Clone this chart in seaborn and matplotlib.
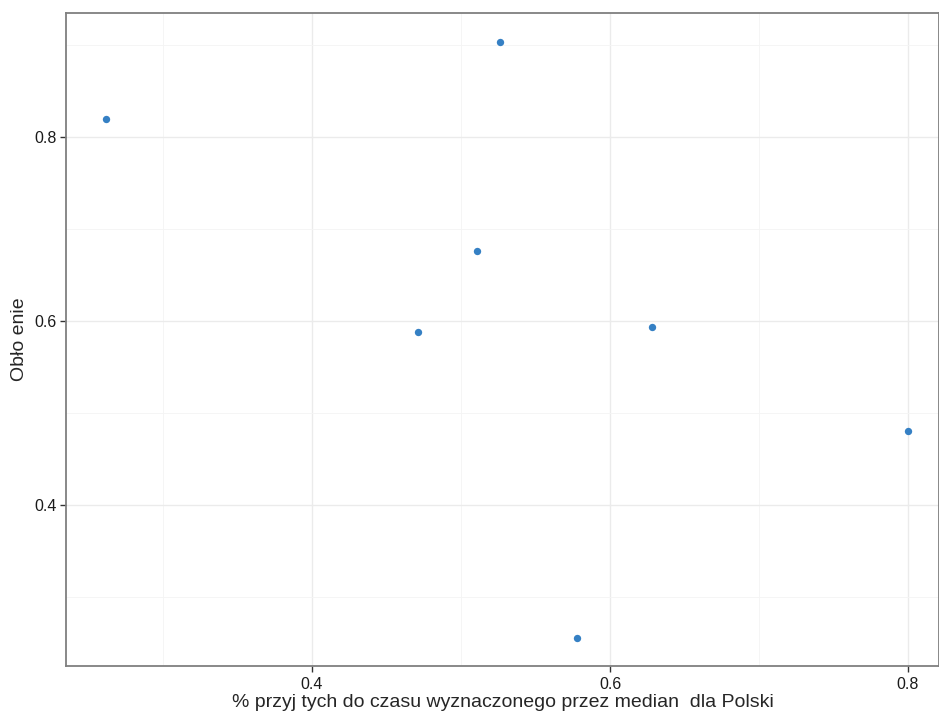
import matplotlib.pyplot as plt
import pandas as pd
import seaborn as sns
from matplotlib.ticker import MultipleLocator

# dane
przyjeci = [0.262, 0.526, 0.511, 0.471, 0.628, 0.800, 0.578]
oblozenie = [0.820, 0.903, 0.676, 0.588, 0.593, 0.481, 0.256]

df = pd.DataFrame({'x': przyjeci, 'y': oblozenie})

sns.set_theme(style='white')
plt.rcParams['font.family'] = ['Liberation Sans', 'DejaVu Sans']

fig = plt.figure(figsize=(9.39, 7.15), dpi=100)
ax = fig.add_axes([0.0703, 0.0685, 0.9297, 0.9133])

sns.scatterplot(data=df, x='x', y='y', ax=ax, color='#3580c4', s=28,
                linewidth=0, zorder=3)

ax.set_xlim(0.2349, 0.8208)
ax.set_ylim(0.225, 0.9348)
ax.xaxis.set_major_locator(MultipleLocator(0.2))
ax.xaxis.set_minor_locator(MultipleLocator(0.1))
ax.yaxis.set_major_locator(MultipleLocator(0.2))
ax.yaxis.set_minor_locator(MultipleLocator(0.1))

ax.grid(which='major', color='#ebebeb', linewidth=1.0)
ax.grid(which='minor', color='#f4f4f4', linewidth=0.6)
ax.set_axisbelow(True)

for side in ['left', 'bottom', 'top', 'right']:
    ax.spines[side].set_color('#7f7f7f')
    ax.spines[side].set_linewidth(1.3)

ax.tick_params(which='major', direction='out', length=4, width=1.0,
               color='#333333', labelsize=11.5, labelcolor='#1a1a1a', pad=3,
               bottom=True, left=True)
ax.tick_params(axis='x', which='major', pad=4)
ax.tick_params(which='minor', length=0)

ax.set_xlabel('% przyj tych do czasu wyznaczonego przez median  dla Polski',
              fontsize=14, labelpad=1)
ax.set_ylabel('Obło enie', fontsize=14, labelpad=4)

fig.savefig('out.png', dpi=100)
